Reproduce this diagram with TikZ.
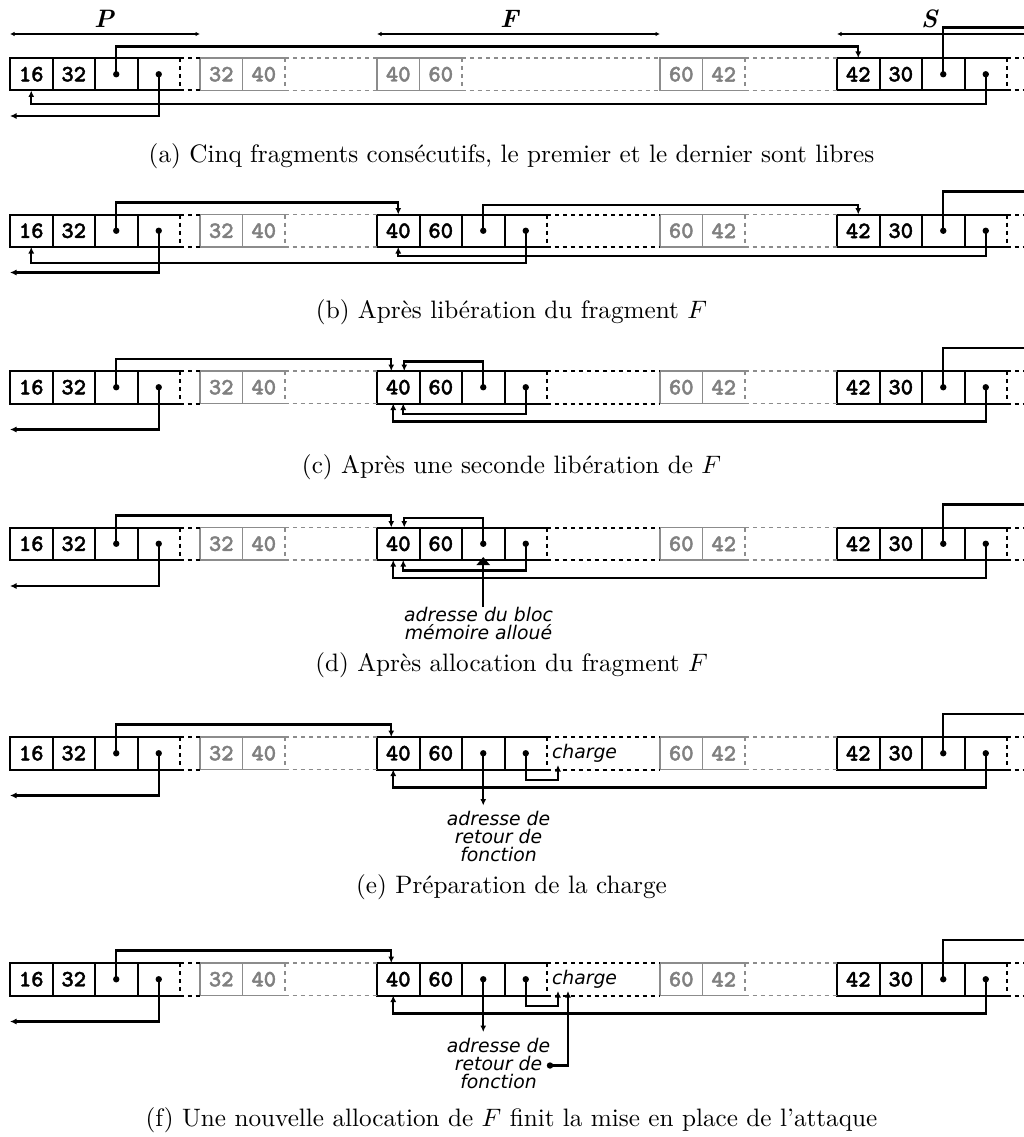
\documentclass[tikz,border=0pt]{standalone}
\usepackage{fontspec}
\usepackage{tikz}
\usepackage{xcolor}
\usetikzlibrary{arrows.meta,positioning}
\newfontfamily\notefont{DejaVu Sans}
\newfontfamily\cellfont{lmmonolt10-bold.otf}[FakeBold=1.6]

\begin{document}
\begin{tikzpicture}[x=1pt,y=-1pt,node distance=0pt,
  every node/.style={inner sep=0pt,outer sep=0pt},
  cell/.style={draw,line width=2pt,minimum width=42.5pt,minimum height=32.5pt,font=\cellfont\bfseries\fontsize{23.5}{23.5}\selectfont},
  opencell/.style={cell,draw=none},
  gcell/.style={cell,draw=black!45,text=black!50,line width=1.6pt},
  gopencell/.style={gcell,draw=none},
  rim/.style={line width=2pt},
  grim/.style={line width=1.6pt,black!45},
  gapline/.style={rim,dash pattern=on 4pt off 4pt},
  ggapline/.style={grim,dash pattern=on 4pt off 4pt},
  link/.style={line width=2.2pt,>={Latex[length=6.5pt,width=6pt]}},
  dimline/.style={line width=1.4pt,{Latex[length=4.5pt,width=4.5pt]}-{Latex[length=4.5pt,width=4.5pt]}},
  captext/.style={scale=2.52,anchor=base},
  notetext/.style={font=\notefont\itshape\fontsize{18.8}{18}\selectfont,align=center}]
\useasboundingbox (0,0) rectangle (1023,1137);

\begin{scope}[yshift=-58pt]
\node[cell] (aP1) at (31.25,16.25) {16};
\node[cell,right=of aP1] (aP2) {32};
\node[cell,right=of aP2] (aP3) {};
\node[opencell,right=of aP3] (aP4) {};
\node[gcell] (aG1) at (221.25,16.25) {32};
\node[gopencell,right=of aG1] (aG2) {40};
\node[gcell] (aF1) at (398.25,16.25) {40};
\node[gopencell,right=of aF1] (aF2) {60};
\node[gcell] (aH1) at (681.25,16.25) {60};
\node[gopencell,right=of aH1] (aH2) {42};
\node[cell] (aS1) at (858.25,16.25) {42};
\node[cell,right=of aS1] (aS2) {30};
\node[cell,right=of aS2] (aS3) {};
\node[opencell,right=of aS3] (aS4) {};
\draw[rim] (aP4.north west) -- (aP4.north east) (aP4.south west) -- (aP4.south east);
\draw[gapline] (aP4.north east) -- (aP4.south east) -- (aG1.south west) (aP4.north east) -- (aG1.north west);
\draw[grim] (aG2.north west) -- (aG2.north east) (aG2.south west) -- (aG2.south east);
\draw[ggapline] (aG2.north east) -- (aG2.south east) -- (aF1.south west) (aG2.north east) -- (aF1.north west);
\draw[grim] (aF2.north west) -- (aF2.north east) (aF2.south west) -- (aF2.south east);
\draw[ggapline] (aF2.north east) -- (aF2.south east) -- (aH1.south west) (aF2.north east) -- (aH1.north west);
\draw[grim] (aH2.north west) -- (aH2.north east) (aH2.south west) -- (aH2.south east);
\draw[ggapline] (aH2.north east) -- (aH2.south east) -- (aS1.south west) (aH2.north east) -- (aS1.north west);
\draw[rim] (aS4.north west) -- (aS4.north east) (aS4.south west) -- (aS4.south east);
\draw[gapline] (aS4.north east) -- (aS4.south east) -- ([xshift=30pt]aS4.south east) (aS4.north east) -- ([xshift=30pt]aS4.north east);
\fill (aP3.center) circle (3.2pt);
\fill (aP4.center) circle (3.2pt);
\fill (aS3.center) circle (3.2pt);
\fill (aS4.center) circle (3.2pt);
\draw[dimline] ([yshift=24pt]aP1.north west) -- ([yshift=24pt]aG1.north west);
\draw[dimline] ([yshift=24pt]aF1.north west) -- ([yshift=24pt]aH1.north west);
\draw[dimline] ([yshift=24pt]aS1.north west) -- ([xshift=30pt,yshift=24pt]aS4.north east);
\node[captext] (dimP) at (104.5,-30) {\textbf{\textit{P}}};
\node[captext] (dimF) at (510,-30) {\textbf{\textit{F}}};
\node[captext] (dimS) at (930,-30) {\textbf{\textit{S}}};
\draw[link,->] (aP3.center) |- ([yshift=11.5pt]aS1.north) -- (aS1.north);
\draw[link] (aS3.center) |- ([xshift=30pt,yshift=30.5pt]aS4.north east);
\draw[link,->] (aS4.center) |- ([yshift=-13.5pt]aP1.south) -- (aP1.south);
\draw[link,->] (aP4.center) |- ([yshift=-25.5pt]aP1.south west);
\node[captext] (capa) at (511.5,104) {(a) Cinq fragments consécutifs, le premier et le dernier sont libres};
\end{scope}

\begin{scope}[yshift=-214.5pt]
\node[cell] (bP1) at (31.25,16.25) {16};
\node[cell,right=of bP1] (bP2) {32};
\node[cell,right=of bP2] (bP3) {};
\node[opencell,right=of bP3] (bP4) {};
\node[gcell] (bG1) at (221.25,16.25) {32};
\node[gopencell,right=of bG1] (bG2) {40};
\node[cell] (bF1) at (398.25,16.25) {40};
\node[cell,right=of bF1] (bF2) {60};
\node[cell,right=of bF2] (bF3) {};
\node[opencell,right=of bF3] (bF4) {};
\node[gcell] (bH1) at (681.25,16.25) {60};
\node[gopencell,right=of bH1] (bH2) {42};
\node[cell] (bS1) at (858.25,16.25) {42};
\node[cell,right=of bS1] (bS2) {30};
\node[cell,right=of bS2] (bS3) {};
\node[opencell,right=of bS3] (bS4) {};
\draw[rim] (bP4.north west) -- (bP4.north east) (bP4.south west) -- (bP4.south east);
\draw[gapline] (bP4.north east) -- (bP4.south east) -- (bG1.south west) (bP4.north east) -- (bG1.north west);
\draw[grim] (bG2.north west) -- (bG2.north east) (bG2.south west) -- (bG2.south east);
\draw[ggapline] (bG2.north east) -- (bG2.south east) -- (bF1.south west) (bG2.north east) -- (bF1.north west);
\draw[rim] (bF4.north west) -- (bF4.north east) (bF4.south west) -- (bF4.south east);
\draw[gapline] (bF4.north east) -- (bF4.south east) -- (bH1.south west) (bF4.north east) -- (bH1.north west);
\draw[grim] (bH2.north west) -- (bH2.north east) (bH2.south west) -- (bH2.south east);
\draw[ggapline] (bH2.north east) -- (bH2.south east) -- (bS1.south west) (bH2.north east) -- (bS1.north west);
\draw[rim] (bS4.north west) -- (bS4.north east) (bS4.south west) -- (bS4.south east);
\draw[gapline] (bS4.north east) -- (bS4.south east) -- ([xshift=30pt]bS4.south east) (bS4.north east) -- ([xshift=30pt]bS4.north east);
\fill (bP3.center) circle (3.2pt);
\fill (bP4.center) circle (3.2pt);
\fill (bF3.center) circle (3.2pt);
\fill (bF4.center) circle (3.2pt);
\fill (bS3.center) circle (3.2pt);
\fill (bS4.center) circle (3.2pt);
\draw[link,->] (bP3.center) |- ([yshift=12pt]bF1.north) -- (bF1.north);
\draw[link,->] (bF3.center) |- ([yshift=9.5pt]bS1.north) -- (bS1.north);
\draw[link] (bS3.center) |- ([xshift=30pt,yshift=23pt]bS4.north east);
\draw[link,->] (bS4.center) |- ([yshift=-9pt]bF1.south) -- (bF1.south);
\draw[link,->] (bF4.center) |- ([yshift=-16pt]bP1.south) -- (bP1.south);
\draw[link,->] (bP4.center) |- ([yshift=-25.5pt]bP1.south west);
\node[captext] (capb) at (511.5,104) {(b) Après libération du fragment $F$};
\end{scope}

\begin{scope}[yshift=-371pt]
\node[cell] (cP1) at (31.25,16.25) {16};
\node[cell,right=of cP1] (cP2) {32};
\node[cell,right=of cP2] (cP3) {};
\node[opencell,right=of cP3] (cP4) {};
\node[gcell] (cG1) at (221.25,16.25) {32};
\node[gopencell,right=of cG1] (cG2) {40};
\node[cell] (cF1) at (398.25,16.25) {40};
\node[cell,right=of cF1] (cF2) {60};
\node[cell,right=of cF2] (cF3) {};
\node[opencell,right=of cF3] (cF4) {};
\node[gcell] (cH1) at (681.25,16.25) {60};
\node[gopencell,right=of cH1] (cH2) {42};
\node[cell] (cS1) at (858.25,16.25) {42};
\node[cell,right=of cS1] (cS2) {30};
\node[cell,right=of cS2] (cS3) {};
\node[opencell,right=of cS3] (cS4) {};
\draw[rim] (cP4.north west) -- (cP4.north east) (cP4.south west) -- (cP4.south east);
\draw[gapline] (cP4.north east) -- (cP4.south east) -- (cG1.south west) (cP4.north east) -- (cG1.north west);
\draw[grim] (cG2.north west) -- (cG2.north east) (cG2.south west) -- (cG2.south east);
\draw[ggapline] (cG2.north east) -- (cG2.south east) -- (cF1.south west) (cG2.north east) -- (cF1.north west);
\draw[rim] (cF4.north west) -- (cF4.north east) (cF4.south west) -- (cF4.south east);
\draw[gapline] (cF4.north east) -- (cF4.south east) -- (cH1.south west) (cF4.north east) -- (cH1.north west);
\draw[grim] (cH2.north west) -- (cH2.north east) (cH2.south west) -- (cH2.south east);
\draw[ggapline] (cH2.north east) -- (cH2.south east) -- (cS1.south west) (cH2.north east) -- (cS1.north west);
\draw[rim] (cS4.north west) -- (cS4.north east) (cS4.south west) -- (cS4.south east);
\draw[gapline] (cS4.north east) -- (cS4.south east) -- ([xshift=30pt]cS4.south east) (cS4.north east) -- ([xshift=30pt]cS4.north east);
\fill (cP3.center) circle (3.2pt);
\fill (cP4.center) circle (3.2pt);
\fill (cF3.center) circle (3.2pt);
\fill (cF4.center) circle (3.2pt);
\fill (cS3.center) circle (3.2pt);
\fill (cS4.center) circle (3.2pt);
\draw[link,->] (cP3.center) |- ([xshift=-7pt,yshift=12pt]cF1.north) -- ([xshift=-7pt]cF1.north);
\draw[link,->] (cF3.center) |- ([xshift=6pt,yshift=9.5pt]cF1.north) -- ([xshift=6pt]cF1.north);
\draw[link] (cS3.center) |- ([xshift=30pt,yshift=23pt]cS4.north east);
\draw[link,->] (cF4.center) |- ([xshift=5pt,yshift=-10.5pt]cF1.south) -- ([xshift=5pt]cF1.south);
\draw[link,->] (cS4.center) |- ([xshift=-5pt,yshift=-18pt]cF1.south) -- ([xshift=-5pt]cF1.south);
\draw[link,->] (cP4.center) |- ([yshift=-26pt]cP1.south west);
\node[captext] (capc) at (511.5,102) {(c) Après une seconde libération de $F$};
\end{scope}

\begin{scope}[yshift=-527.5pt]
\node[cell] (dP1) at (31.25,16.25) {16};
\node[cell,right=of dP1] (dP2) {32};
\node[cell,right=of dP2] (dP3) {};
\node[opencell,right=of dP3] (dP4) {};
\node[gcell] (dG1) at (221.25,16.25) {32};
\node[gopencell,right=of dG1] (dG2) {40};
\node[cell] (dF1) at (398.25,16.25) {40};
\node[cell,right=of dF1] (dF2) {60};
\node[cell,right=of dF2] (dF3) {};
\node[opencell,right=of dF3] (dF4) {};
\node[gcell] (dH1) at (681.25,16.25) {60};
\node[gopencell,right=of dH1] (dH2) {42};
\node[cell] (dS1) at (858.25,16.25) {42};
\node[cell,right=of dS1] (dS2) {30};
\node[cell,right=of dS2] (dS3) {};
\node[opencell,right=of dS3] (dS4) {};
\draw[rim] (dP4.north west) -- (dP4.north east) (dP4.south west) -- (dP4.south east);
\draw[gapline] (dP4.north east) -- (dP4.south east) -- (dG1.south west) (dP4.north east) -- (dG1.north west);
\draw[grim] (dG2.north west) -- (dG2.north east) (dG2.south west) -- (dG2.south east);
\draw[ggapline] (dG2.north east) -- (dG2.south east) -- (dF1.south west) (dG2.north east) -- (dF1.north west);
\draw[rim] (dF4.north west) -- (dF4.north east) (dF4.south west) -- (dF4.south east);
\draw[gapline] (dF4.north east) -- (dF4.south east) -- (dH1.south west) (dF4.north east) -- (dH1.north west);
\draw[grim] (dH2.north west) -- (dH2.north east) (dH2.south west) -- (dH2.south east);
\draw[ggapline] (dH2.north east) -- (dH2.south east) -- (dS1.south west) (dH2.north east) -- (dS1.north west);
\draw[rim] (dS4.north west) -- (dS4.north east) (dS4.south west) -- (dS4.south east);
\draw[gapline] (dS4.north east) -- (dS4.south east) -- ([xshift=30pt]dS4.south east) (dS4.north east) -- ([xshift=30pt]dS4.north east);
\fill (dP3.center) circle (3.2pt);
\fill (dP4.center) circle (3.2pt);
\fill (dF3.center) circle (3.2pt);
\fill (dF4.center) circle (3.2pt);
\fill (dS3.center) circle (3.2pt);
\fill (dS4.center) circle (3.2pt);
\draw[link,->] (dP3.center) |- ([xshift=-7pt,yshift=12pt]dF1.north) -- ([xshift=-7pt]dF1.north);
\draw[link,->] (dF3.center) |- ([xshift=6pt,yshift=9.5pt]dF1.north) -- ([xshift=6pt]dF1.north);
\draw[link] (dS3.center) |- ([xshift=30pt,yshift=23pt]dS4.north east);
\draw[link,->] (dF4.center) |- ([xshift=5pt,yshift=-10.5pt]dF1.south) -- ([xshift=5pt]dF1.south);
\draw[link,->] (dS4.center) |- ([xshift=-5pt,yshift=-18pt]dF1.south) -- ([xshift=-5pt]dF1.south);
\draw[link,->] (dP4.center) |- ([yshift=-26pt]dP1.south west);
\node[notetext,anchor=north] (dnote) at (478.5,79.5) {adresse du bloc\\mémoire alloué};
\draw[line width=2.2pt,-{Triangle[length=8pt,width=13pt]}] (dnote.north -| dF3.center) -- ([yshift=3pt]dF3.south);
\node[captext] (capd) at (511.5,143.5) {(d) Après allocation du fragment $F$};
\end{scope}

\begin{scope}[yshift=-737pt]
\node[cell] (eP1) at (31.25,16.25) {16};
\node[cell,right=of eP1] (eP2) {32};
\node[cell,right=of eP2] (eP3) {};
\node[opencell,right=of eP3] (eP4) {};
\node[gcell] (eG1) at (221.25,16.25) {32};
\node[gopencell,right=of eG1] (eG2) {40};
\node[cell] (eF1) at (398.25,16.25) {40};
\node[cell,right=of eF1] (eF2) {60};
\node[cell,right=of eF2] (eF3) {};
\node[opencell,right=of eF3] (eF4) {};
\node[gcell] (eH1) at (681.25,16.25) {60};
\node[gopencell,right=of eH1] (eH2) {42};
\node[cell] (eS1) at (858.25,16.25) {42};
\node[cell,right=of eS1] (eS2) {30};
\node[cell,right=of eS2] (eS3) {};
\node[opencell,right=of eS3] (eS4) {};
\node[notetext,anchor=west] (eload) at (552,16.25) {charge};
\draw[rim] (eP4.north west) -- (eP4.north east) (eP4.south west) -- (eP4.south east);
\draw[gapline] (eP4.north east) -- (eP4.south east) -- (eG1.south west) (eP4.north east) -- (eG1.north west);
\draw[grim] (eG2.north west) -- (eG2.north east) (eG2.south west) -- (eG2.south east);
\draw[ggapline] (eG2.north east) -- (eG2.south east) -- (eF1.south west) (eG2.north east) -- (eF1.north west);
\draw[rim] (eF4.north west) -- (eF4.north east) (eF4.south west) -- (eF4.south east);
\draw[gapline] (eF4.north east) -- (eF4.south east) -- (eH1.south west) (eF4.north east) -- (eH1.north west);
\draw[grim] (eH2.north west) -- (eH2.north east) (eH2.south west) -- (eH2.south east);
\draw[ggapline] (eH2.north east) -- (eH2.south east) -- (eS1.south west) (eH2.north east) -- (eS1.north west);
\draw[rim] (eS4.north west) -- (eS4.north east) (eS4.south west) -- (eS4.south east);
\draw[gapline] (eS4.north east) -- (eS4.south east) -- ([xshift=30pt]eS4.south east) (eS4.north east) -- ([xshift=30pt]eS4.north east);
\fill (eP3.center) circle (3.2pt);
\fill (eP4.center) circle (3.2pt);
\fill (eF3.center) circle (3.2pt);
\fill (eF4.center) circle (3.2pt);
\fill (eS3.center) circle (3.2pt);
\fill (eS4.center) circle (3.2pt);
\node[notetext,anchor=north] (enote) at (498.5,74.5) {adresse de\\retour de\\fonction};
\coordinate (eaim) at (558,28);
\draw[link,->] (eP3.center) |- ([xshift=-7pt,yshift=12.5pt]eF1.north) -- ([xshift=-7pt]eF1.north);
\draw[link,->] (eF3.center) -- ([yshift=6pt]enote.north -| eF3.center);
\draw[link] (eS3.center) |- ([xshift=30pt,yshift=23pt]eS4.north east);
\draw[link,->] (eF4.center) |- ([yshift=-15pt]eaim) -- (eaim);
\draw[link,->] (eS4.center) |- ([xshift=-5pt,yshift=-18pt]eF1.south) -- ([xshift=-5pt]eF1.south);
\draw[link,->] (eP4.center) |- ([yshift=-26pt]eP1.south west);
\node[captext] (cape) at (511.5,156) {(e) Préparation de la charge};
\end{scope}

\begin{scope}[yshift=-963pt]
\node[cell] (fP1) at (31.25,16.25) {16};
\node[cell,right=of fP1] (fP2) {32};
\node[cell,right=of fP2] (fP3) {};
\node[opencell,right=of fP3] (fP4) {};
\node[gcell] (fG1) at (221.25,16.25) {32};
\node[gopencell,right=of fG1] (fG2) {40};
\node[cell] (fF1) at (398.25,16.25) {40};
\node[cell,right=of fF1] (fF2) {60};
\node[cell,right=of fF2] (fF3) {};
\node[opencell,right=of fF3] (fF4) {};
\node[gcell] (fH1) at (681.25,16.25) {60};
\node[gopencell,right=of fH1] (fH2) {42};
\node[cell] (fS1) at (858.25,16.25) {42};
\node[cell,right=of fS1] (fS2) {30};
\node[cell,right=of fS2] (fS3) {};
\node[opencell,right=of fS3] (fS4) {};
\node[notetext,anchor=west] (fload) at (552,16.25) {charge};
\draw[rim] (fP4.north west) -- (fP4.north east) (fP4.south west) -- (fP4.south east);
\draw[gapline] (fP4.north east) -- (fP4.south east) -- (fG1.south west) (fP4.north east) -- (fG1.north west);
\draw[grim] (fG2.north west) -- (fG2.north east) (fG2.south west) -- (fG2.south east);
\draw[ggapline] (fG2.north east) -- (fG2.south east) -- (fF1.south west) (fG2.north east) -- (fF1.north west);
\draw[rim] (fF4.north west) -- (fF4.north east) (fF4.south west) -- (fF4.south east);
\draw[gapline] (fF4.north east) -- (fF4.south east) -- (fH1.south west) (fF4.north east) -- (fH1.north west);
\draw[grim] (fH2.north west) -- (fH2.north east) (fH2.south west) -- (fH2.south east);
\draw[ggapline] (fH2.north east) -- (fH2.south east) -- (fS1.south west) (fH2.north east) -- (fS1.north west);
\draw[rim] (fS4.north west) -- (fS4.north east) (fS4.south west) -- (fS4.south east);
\draw[gapline] (fS4.north east) -- (fS4.south east) -- ([xshift=30pt]fS4.south east) (fS4.north east) -- ([xshift=30pt]fS4.north east);
\fill (fP3.center) circle (3.2pt);
\fill (fP4.center) circle (3.2pt);
\fill (fF3.center) circle (3.2pt);
\fill (fF4.center) circle (3.2pt);
\fill (fS3.center) circle (3.2pt);
\fill (fS4.center) circle (3.2pt);
\node[notetext,anchor=north] (fnote) at (498.5,75) {adresse de\\retour de\\fonction};
\coordinate (faim) at (558,28);
\coordinate (fret) at (550,102.5);
\coordinate (fgo) at (568,28);
\fill (fret) circle (3.2pt);
\draw[link,->] (fP3.center) |- ([xshift=-7pt,yshift=12.5pt]fF1.north) -- ([xshift=-7pt]fF1.north);
\draw[link,->] (fF3.center) -- ([yshift=6pt]fnote.north -| fF3.center);
\draw[link] (fS3.center) |- ([xshift=30pt,yshift=23pt]fS4.north east);
\draw[link,->] (fF4.center) |- ([yshift=-15pt]faim) -- (faim);
\draw[link,->] (fS4.center) |- ([xshift=-5pt,yshift=-18pt]fF1.south) -- ([xshift=-5pt]fF1.south);
\draw[link,->] (fP4.center) |- ([yshift=-26pt]fP1.south west);
\draw[link,->] (fret) -| (fgo);
\node[captext] (capf) at (511.5,163) {(f) Une nouvelle allocation de $F$ finit la mise en place de l'attaque};
\end{scope}
\end{tikzpicture}
\end{document}
